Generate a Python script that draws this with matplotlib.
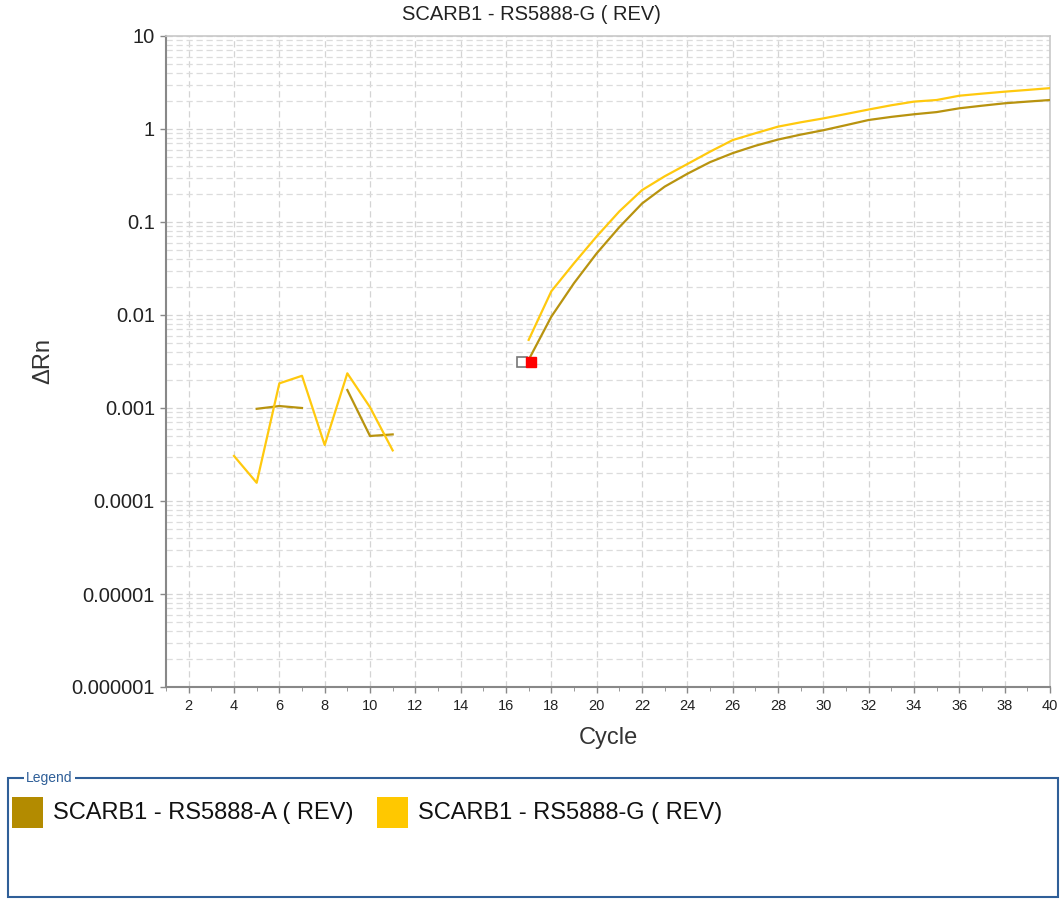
import numpy as np
import matplotlib
matplotlib.use('Agg')
import matplotlib.pyplot as plt
from matplotlib.patches import Rectangle
from matplotlib.ticker import FixedLocator, FixedFormatter, NullFormatter

plt.rcParams['font.family'] = ['Liberation Sans', 'DejaVu Sans']

# data
title = 'SCARB1 - RS5888-G ( REV)'
names = ['SCARB1 - RS5888-A ( REV)', 'SCARB1 - RS5888-G ( REV)']
colors = ['#B38B00', '#FFC800']
line_colors = ['#B8930F', '#FFC90E']

nan = np.nan
cycles = list(range(4, 41))
rn_a = [nan, 0.00098, 0.00105, 0.0010, nan, 0.00156, 0.00050, 0.00052,
        nan, nan, nan, nan, nan,
        0.0033, 0.0096, 0.022, 0.046, 0.088, 0.158, 0.24, 0.33, 0.44, 0.55,
        0.66, 0.77, 0.87, 0.97, 1.10, 1.25, 1.35, 1.44, 1.52, 1.67, 1.78,
        1.89, 1.97, 2.05]
rn_g = [0.000305, 0.000157, 0.00184, 0.00222, 0.00040, 0.00236, 0.00102, 0.00035,
        nan, nan, nan, nan, nan,
        0.0054, 0.018, 0.036, 0.070, 0.13, 0.22, 0.31, 0.42, 0.57, 0.76,
        0.90, 1.06, 1.18, 1.30, 1.45, 1.62, 1.80, 1.97, 2.05, 2.28, 2.40,
        2.52, 2.63, 2.75]

ct_x = [16.72, 17.12]
ct_y = [0.0031, 0.0031]

yticks = [1e-6, 1e-5, 1e-4, 1e-3, 1e-2, 1e-1, 1, 10]
ylabels = ['0.000001', '0.00001', '0.0001', '0.001', '0.01', '0.1', '1', '10']
xticks = list(range(2, 41, 2))

fig = plt.figure(figsize=(10.63, 9.0), dpi=100)
ax = fig.add_axes([166 / 1063, 1 - 687 / 900, 884 / 1063, 651 / 900])

ax.set_yscale('log')
ax.set_xlim(1, 40)
ax.set_ylim(1e-6, 10)

ax.plot(cycles, rn_a, color=line_colors[0], lw=1.6, zorder=3)
ax.plot(cycles, rn_g, color=line_colors[1], lw=1.6, zorder=3)

ax.plot(ct_x[0], ct_y[0], marker='s', ms=7, mfc='white', mec='#777777', mew=1.2, zorder=4)
ax.plot(ct_x[1], ct_y[1], marker='s', ms=7, mfc='#FF0000', mec='#FF0000', zorder=5)

ax.yaxis.set_major_locator(FixedLocator(yticks))
ax.yaxis.set_major_formatter(FixedFormatter(ylabels))
minor_y = [m * 10.0 ** e for e in range(-6, 1) for m in range(2, 10)]
ax.yaxis.set_minor_locator(FixedLocator(minor_y))
ax.yaxis.set_minor_formatter(NullFormatter())
ax.xaxis.set_major_locator(FixedLocator(xticks))
ax.xaxis.set_minor_locator(FixedLocator(list(range(1, 41))))

ax.grid(True, which='major', axis='both', color='#d4d4d4', ls=(0, (5, 3)), lw=0.9)
ax.grid(True, which='minor', axis='y', color='#dcdcdc', ls=(0, (5, 3)), lw=0.9)
ax.set_axisbelow(True)

ax.tick_params(axis='both', which='major', colors='#888888',
               labelcolor='#222222', length=4, width=1)
ax.tick_params(axis='x', which='major', labelsize=10.5, pad=5)
ax.tick_params(axis='y', which='major', labelsize=14.5, pad=4)
ax.tick_params(axis='y', which='minor', length=0)
ax.tick_params(axis='x', which='minor', length=3, colors='#888888')

for s in ['left', 'bottom']:
    ax.spines[s].set_color('#888888')
    ax.spines[s].set_linewidth(1.5)
for s in ['top', 'right']:
    ax.spines[s].set_color('#c8c8c8')
    ax.spines[s].set_linewidth(1.2)

ax.set_xlabel('Cycle', fontsize=17, color='#333333', labelpad=10)
ax.set_ylabel('ΔRn', fontsize=17, color='#333333', labelpad=12)
fig.text(0.5, 1 - 15 / 900, title, ha='center', va='center', fontsize=14.5, color='#222222')

# legend box
W, H = 1063.0, 900.0
box = Rectangle((8 / W, 1 - 897 / H), 1050 / W, 119 / H, transform=fig.transFigure,
                fill=False, ec='#2F5F98', lw=1.5)
fig.add_artist(box)
fig.text(26 / W, 1 - 778 / H, 'Legend', ha='left', va='center', fontsize=10, color='#2F5F98',
         bbox=dict(fc='white', ec='none', pad=1.5))
legend_x = [12, 377]
for i in range(2):
    sq = Rectangle((legend_x[i] / W, 1 - 828 / H), 31 / W, 31 / H,
                   transform=fig.transFigure, fc=colors[i], ec='none')
    fig.add_artist(sq)
    fig.text((legend_x[i] + 41) / W, 1 - 813 / H, names[i], ha='left', va='center',
             fontsize=17, color='#111111')

fig.savefig('out.png', dpi=100)
